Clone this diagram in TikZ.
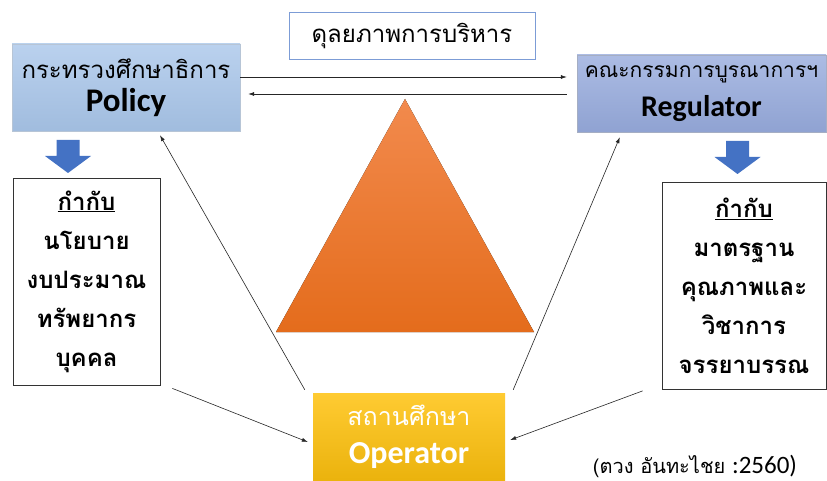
\documentclass[tikz,border=0pt]{standalone}
\usepackage{fontspec}
\setmainfont{Carlito}
\newfontfamily\thai[Script=Thai]{Loma}
\usetikzlibrary{arrows.meta}

\definecolor{polblue}{HTML}{A9C6EA}
\definecolor{regblue}{HTML}{97ABDD}
\definecolor{opgold}{HTML}{FFC20E}
\definecolor{tritop}{HTML}{F28A4D}
\definecolor{tribot}{HTML}{E46C1C}
\definecolor{dropblue}{HTML}{4472C4}

\tikzset{
  unitbox/.style={minimum width=#1, inner sep=0pt, align=center},
  policybox/.style={draw=polblue!80!black!60, top color=polblue!80!white, bottom color=polblue!95!black, minimum height=87pt},
  regbox/.style={draw=regblue!70!black!60, top color=regblue!80!white, bottom color=regblue!95!black, minimum height=77pt},
  opbox/.style={top color=opgold!85!white, bottom color=opgold!92!black, minimum height=88pt, text=white},
  listbox/.style={draw=black!80, thick, minimum height=207pt},
  link/.style={draw=black!85, line width=0.6pt, -{Latex[length=6pt,width=4pt]}},
}
\newcommand\thaisize[2]{\thai\fontsize{#1}{#2}\selectfont}
\newcommand\bigname[1]{\rmfamily\bfseries\fontsize{#1}{#1}\selectfont}
\newcommand\dropto[1]{\fill[dropblue, shift={#1}] (-11.5,0) -- (11.5,0) -- (11.5,16) -- (23,16) -- (0,33) -- (-23,16) -- (-11.5,16) -- cycle;}

\begin{document}
\begin{tikzpicture}[x=1pt, y=-1pt]
\useasboundingbox[fill=white] (0,0) rectangle (827,481);

\node[unitbox=246pt, minimum height=47pt, draw=dropblue!70, font=\thaisize{24}{30}] (bal) at (412,35.5) {ดุลยภาพการบริหาร};
\node[unitbox=228pt, policybox, font=\thaisize{24}{33}] (pol) at (126,87.5) {กระทรวงศึกษาธิการ\\{\bigname{33}Policy}};
\node[unitbox=249pt, regbox, font=\thaisize{21}{39}] (reg) at (701.5,93.5) {คณะกรรมการบูรณาการฯ\\{\bigname{30}Regulator}};

\fill[top color=tritop, bottom color=tribot] (405,99) -- (276,332) -- (534,332) -- cycle;

\dropto{(68,140)}
\dropto{(737.5,141)}

\node[unitbox=147pt, listbox, font=\thaisize{24}{39}\bfseries] (lbox) at (86.5,281.5) {\underline{กำกับ}\\นโยบาย\\งบประมาณ\\ทรัพยากร\\บุคคล};
\node[unitbox=164pt, listbox, font=\thaisize{24}{39}\bfseries] (rbox) at (744,286) {\underline{กำกับ}\\มาตรฐาน\\คุณภาพและ\\วิชาการ\\จรรยาบรรณ};

\node[unitbox=192pt, opbox, font=\thaisize{25}{38}] (op) at (409,437) {สถานศึกษา\\{\bigname{32}Operator}};

\node[inner sep=0pt, font=\thaisize{20}{24}] (cite) at (695,466) {(ตวง อันทะไชย {\rmfamily\fontsize{25}{26}\selectfont :2560)}};

\draw[link] ([yshift=10.5pt]pol.east) -- ([yshift=10.5pt]pol.east -| reg.west) [shorten >=10pt];
\draw[link] ([yshift=-6.5pt]pol.east -| reg.west) -- ([yshift=-6.5pt]pol.east) [shorten <=10pt, shorten >=8pt];

\draw[link] ([shift={(-8pt,3pt)}]op.north west) -- ([shift={(34pt,-4pt)}]pol.south);
\draw[link] ([shift={(8pt,3pt)}]op.north east) -- ([shift={(43pt,-5pt)}]reg.south west);
\draw[link] ([shift={(12pt,-3pt)}]lbox.south east) -- ([shift={(-5pt,-5pt)}]op.west);
\draw[link] ([shift={(-19pt,-1pt)}]rbox.south west) -- ([shift={(5pt,-3pt)}]op.east);
\end{tikzpicture}
\end{document}
